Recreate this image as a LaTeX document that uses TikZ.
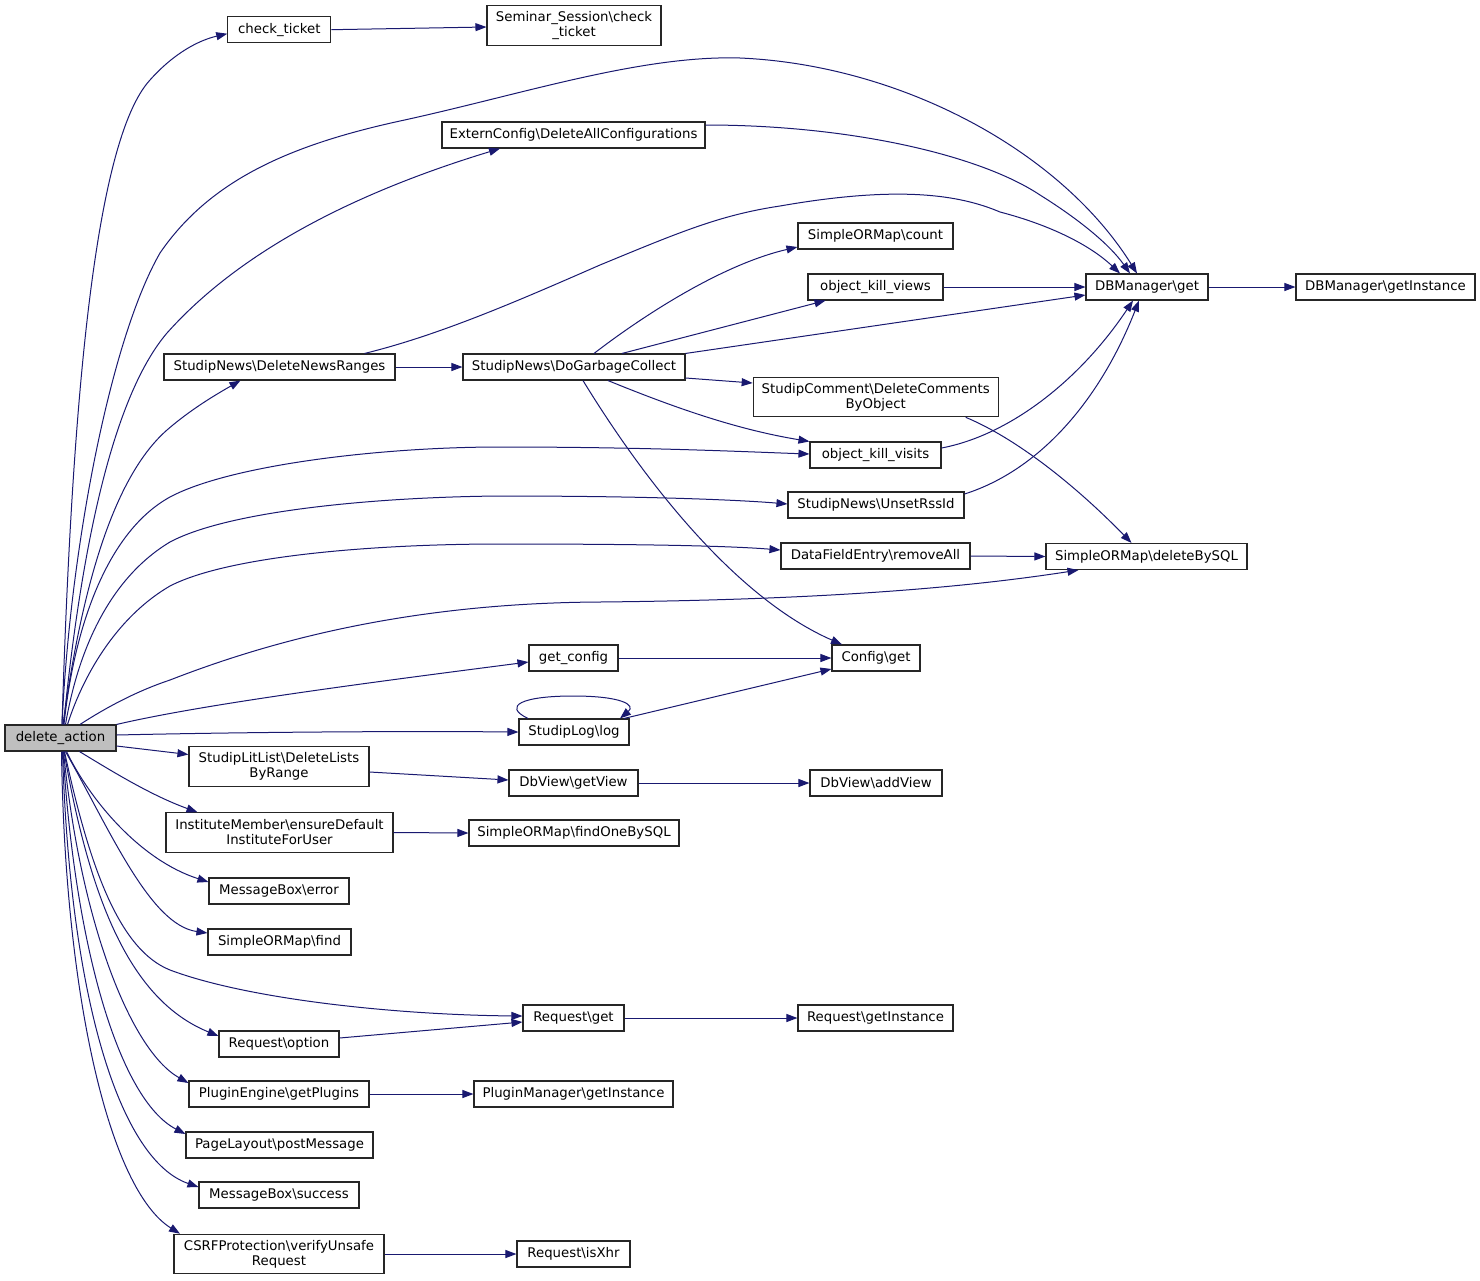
\documentclass[tikz,border=0pt]{standalone}
\usepackage{fontspec}
\setmainfont{DejaVu Sans}
\usetikzlibrary{arrows.meta}
\definecolor{edgeblue}{RGB}{25,25,112}
\definecolor{mainfill}{RGB}{191,191,191}
\newcommand{\bs}{\textbackslash}
\begin{document}
\begin{tikzpicture}[x=1pt,y=-1pt,
  box/.style={draw=black!85, line width=1.1pt, fill=white, inner sep=0pt, minimum height=26pt, align=center, font=\fontsize{13.3}{15}\selectfont},
  tall/.style={minimum height=39.5pt},
  edge/.style={draw=edgeblue, line width=1pt, -{Triangle[length=11pt,width=8pt]}}]
\useasboundingbox[fill=white] (0,0) rectangle (1480,1280);

% nodes
\node[box, fill=mainfill, minimum width=111pt] (da) at (60.5,738) {delete\_action};
\node[box, minimum width=103pt] (ct) at (279.3,29.7) {check\_ticket};
\node[box, tall, minimum width=174pt] (ss) at (574,25.5) {Seminar\_Session\bs check\\\_ticket};
\node[box, minimum width=263pt] (ec) at (573.5,135) {ExternConfig\bs DeleteAllConfigurations};
\node[box, minimum width=122pt] (dbg) at (1147,287) {DBManager\bs get};
\node[box, minimum width=179pt] (dbi) at (1385.5,287) {DBManager\bs getInstance};
\node[box, minimum width=155pt] (cnt) at (875.5,236) {SimpleORMap\bs count};
\node[box, minimum width=135pt] (okv) at (875.5,287) {object\_kill\_views};
\node[box, minimum width=231pt] (dnr) at (279.5,367) {StudipNews\bs DeleteNewsRanges};
\node[box, minimum width=222pt] (dgc) at (574,367) {StudipNews\bs DoGarbageCollect};
\node[box, tall, minimum width=245pt] (sc) at (875.7,397) {StudipComment\bs DeleteComments\\ByObject};
\node[box, minimum width=131pt] (okvi) at (875.5,455) {object\_kill\_visits};
\node[box, minimum width=176pt] (urs) at (876,505) {StudipNews\bs UnsetRssId};
\node[box, minimum width=189pt] (dfe) at (875.5,556) {DataFieldEntry\bs removeAll};
\node[box, minimum width=201pt] (dbs) at (1146.5,556.5) {SimpleORMap\bs deleteBySQL};
\node[box, minimum width=89pt] (gc) at (573.5,658) {get\_config};
\node[box, minimum width=88pt] (cg) at (876,658) {Config\bs get};
\node[box, minimum width=110pt] (sl) at (574,732) {StudipLog\bs log};
\node[box, tall, minimum width=180pt] (sll) at (279,766.5) {StudipLitList\bs DeleteLists\\ByRange};
\node[box, minimum width=129pt] (gv) at (573.5,783) {DbView\bs getView};
\node[box, minimum width=132pt] (av) at (876,783) {DbView\bs addView};
\node[box, tall, minimum width=227pt] (im) at (279.5,832.5) {InstituteMember\bs ensureDefault\\InstituteForUser};
\node[box, minimum width=210pt] (fob) at (574,833) {SimpleORMap\bs findOneBySQL};
\node[box, minimum width=140pt] (mbe) at (279,891) {MessageBox\bs error};
\node[box, minimum width=143pt] (sf) at (279.5,942) {SimpleORMap\bs find};
\node[box, minimum width=101pt] (rg) at (573.5,1018) {Request\bs get};
\node[box, minimum width=155pt] (rgi) at (875.5,1018) {Request\bs getInstance};
\node[box, minimum width=120pt] (ro) at (279,1044) {Request\bs option};
\node[box, minimum width=180pt] (pe) at (279,1094) {PluginEngine\bs getPlugins};
\node[box, minimum width=199pt] (pm) at (573.5,1094) {PluginManager\bs getInstance};
\node[box, minimum width=187pt] (pl) at (279.5,1145) {PageLayout\bs postMessage};
\node[box, minimum width=160pt] (mbs) at (279,1195) {MessageBox\bs success};
\node[box, tall, minimum width=210pt] (csrf) at (279,1254) {CSRFProtection\bs verifyUnsafe\\Request};
\node[box, minimum width=113pt] (xhr) at (573.5,1254) {Request\bs isXhr};

% edges from delete_action
\draw[edge] ([xshift=1.5pt]da.north) .. controls (72,400) and (95,140) .. (150,80) .. controls (175,52) and (200,40) .. ([yshift=-4pt]ct.west);
\draw[edge] ([xshift=1.5pt]da.north) .. controls (70,550) and (110,340) .. (160,253) .. controls (210,180) and (290,145) .. (400,121) .. controls (520,95) and (640,55) .. (740,58) .. controls (900,65) and (1060,150) .. ([xshift=-10pt]dbg.north);
\draw[edge] ([xshift=3pt]da.north) .. controls (80,560) and (110,400) .. (167,333) .. controls (250,240) and (380,185) .. ([xshift=-73.5pt]ec.south);
\draw[edge] ([xshift=2.5pt]da.north) .. controls (80,600) and (110,480) .. (167,430) .. controls (190,410) and (215,395) .. ([xshift=-39pt]dnr.south);
\draw[edge] ([xshift=3.5pt]da.north) .. controls (75,620) and (110,530) .. (170,497) .. controls (230,465) and (380,447) .. (500,447) .. controls (650,447) and (750,452) .. ([yshift=1pt]okvi.west);
\draw[edge] ([xshift=5pt]da.north) .. controls (80,640) and (115,575) .. (170,542) .. controls (230,510) and (380,497) .. (500,496) .. controls (650,496) and (740,500) .. ([yshift=1pt]urs.west);
\draw[edge] ([xshift=7pt]da.north) .. controls (85,670) and (120,615) .. (170,586) .. controls (230,555) and (380,544) .. (500,544) .. controls (650,544) and (730,546) .. ([yshift=6pt]dfe.west);
\draw[edge] ([xshift=19.5pt]da.north) .. controls (110,705) and (140,690) .. (170,680) .. controls (260,645) and (400,603) .. (600,602) .. controls (800,600) and (950,590) .. ([xshift=-68pt]dbs.south);
\draw[edge] (da.north east) .. controls (200,705) and (350,685) .. ([yshift=-4pt]gc.west);
\draw[edge] ([yshift=3pt]da.east) .. controls (250,732) and (400,731) .. (sl.west);
\draw[edge] ([yshift=-8pt]da.east) -- ([yshift=12pt]sll.west);
\draw[edge] ([xshift=19pt]da.south) .. controls (110,770) and (150,795) .. ([xshift=-82pt]im.north);
\draw[edge] ([xshift=6pt]da.south) .. controls (90,800) and (140,860) .. ([yshift=9pt]mbe.west);
\draw[edge] ([xshift=5pt]da.south) .. controls (110,830) and (150,925) .. ([yshift=9pt]sf.west);
\draw[edge] ([xshift=4pt]da.south) .. controls (90,870) and (120,950) .. (170,970) .. controls (250,1000) and (400,1015) .. ([yshift=2pt]rg.west);
\draw[edge] ([xshift=3.5pt]da.south) .. controls (90,900) and (130,1000) .. ([yshift=8pt]ro.west);
\draw[edge] ([xshift=3pt]da.south) .. controls (80,920) and (130,1050) .. ([yshift=11pt]pe.west);
\draw[edge] ([xshift=2.5pt]da.south) .. controls (75,950) and (120,1100) .. ([yshift=11pt]pl.west);
\draw[edge] ([xshift=2pt]da.south) .. controls (70,1000) and (120,1160) .. ([yshift=8pt]mbs.west);
\draw[edge] ([xshift=1pt]da.south) .. controls (65,1000) and (110,1190) .. ([xshift=-99pt]csrf.north);

% other edges
\draw[edge] (ct.east) -- ([yshift=-1.5pt]ss.west);
\draw[edge] ([yshift=10pt]ec.east) .. controls (850,125) and (980,155) .. (1040,195) .. controls (1080,220) and (1110,245) .. ([xshift=-17pt]dbg.north);
\draw[edge] ([xshift=85pt]dnr.north) .. controls (440,335) and (520,300) .. (600,265) .. controls (680,232) and (720,215) .. (780,206) .. controls (900,185) and (960,195) .. (1000,212) .. controls (1050,225) and (1090,245) .. ([xshift=-27pt]dbg.north);
\draw[edge] (dnr.east) -- (dgc.west);
\draw[edge] ([xshift=20pt]dgc.north) .. controls (640,318) and (720,265) .. ([yshift=-11pt]cnt.west);
\draw[edge] ([xshift=48pt]dgc.north) -- ([xshift=-50pt]okv.south);
\draw[edge] (dgc.north east) -- ([yshift=-8pt]dbg.west);
\draw[edge] ([yshift=-11pt]dgc.east) -- ([yshift=14pt]sc.west);
\draw[edge] ([xshift=34pt]dgc.south) .. controls (680,410) and (740,430) .. (okvi.north west);
\draw[edge] ([xshift=9pt]dgc.south) .. controls (650,490) and (740,600) .. ([xshift=-34pt]cg.north);
\draw[edge] (okv.east) -- (dbg.west);
\draw[edge] (dbg.east) -- (dbi.west);
\draw[edge] ([xshift=90pt]sc.south) .. controls (1020,440) and (1080,490) .. ([xshift=-15pt]dbs.north);
\draw[edge] ([yshift=7pt]okvi.east) .. controls (1010,435) and (1080,380) .. ([xshift=-14pt]dbg.south);
\draw[edge] ([yshift=11pt]urs.east) .. controls (1040,470) and (1100,400) .. ([xshift=-8pt]dbg.south);
\draw[edge] (dfe.east) -- (dbs.west);
\draw[edge] (gc.east) -- (cg.west);
\draw[edge] ([xshift=50pt]sl.north) -- ([yshift=-11pt]cg.west);
\draw[edge] ([xshift=-46pt]sl.north) .. controls (502,706) and (522,696) .. (573,696) .. controls (622,696) and (636,705) .. ([xshift=46pt]sl.north);
\draw[edge] ([yshift=-5.5pt]sll.east) -- ([yshift=3pt]gv.west);
\draw[edge] (gv.east) -- (av.west);
\draw[edge] (im.east) -- (fob.west);
\draw[edge] ([yshift=6pt]ro.east) -- ([yshift=-4pt]rg.west);
\draw[edge] (rg.east) -- (rgi.west);
\draw[edge] (pe.east) -- (pm.west);
\draw[edge] (csrf.east) -- (xhr.west);
\end{tikzpicture}
\end{document}
